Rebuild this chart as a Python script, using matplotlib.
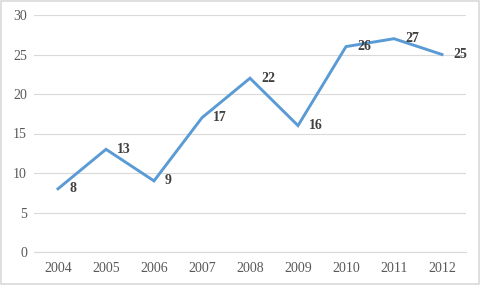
import matplotlib.pyplot as plt
from matplotlib.patches import Rectangle

# Data
years = ['2004', '2005', '2006', '2007', '2008', '2009', '2010', '2011', '2012']
values = [8, 13, 9, 17, 22, 16, 26, 27, 25]
y_ticks = [0, 5, 10, 15, 20, 25, 30]

plt.rcParams['font.family'] = ['Liberation Serif', 'DejaVu Serif']

fig = plt.figure(figsize=(4.8, 2.85), dpi=100)
ax = fig.add_axes([34 / 480, 33 / 285, 432 / 480, 237 / 285])

x = list(range(len(years)))
ax.plot(x, values, color='#5B9BD5', linewidth=2.1, solid_joinstyle='miter', zorder=3)

# data labels to the right of each point
for xi, v in zip(x, values):
    ax.annotate(str(v), (xi, v), xytext=(8, 0), textcoords='offset points',
                ha='left', va='center', fontsize=10, fontweight='bold',
                color='#404040', zorder=4)

ax.set_xlim(-0.5, len(years) - 0.5)
ax.set_ylim(0, 30)
ax.set_xticks(x)
ax.set_xticklabels(years)
ax.set_yticks(y_ticks)

ax.grid(axis='y', color='#D9D9D9', linewidth=0.8)
ax.set_axisbelow(True)
for side in ['top', 'right', 'left']:
    ax.spines[side].set_visible(False)
ax.spines['bottom'].set_color('#D9D9D9')
ax.tick_params(length=0, labelsize=10, colors='#595959', pad=7)
ax.tick_params(axis='y', pad=5)

# light gray border around the chart area
fig.patches.append(Rectangle((0.002, 0.003), 0.996, 0.994, transform=fig.transFigure,
                             fill=False, edgecolor='#D9D9D9', linewidth=1.2))

fig.savefig('out.png', dpi=100)
